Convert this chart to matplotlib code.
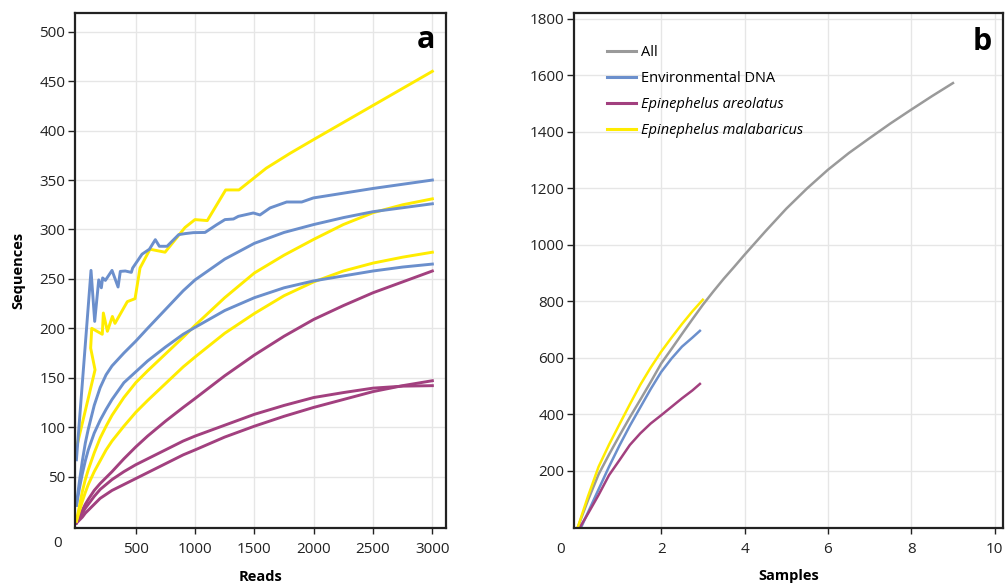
import matplotlib
matplotlib.use("Agg")
import matplotlib.pyplot as plt

plt.rcParams["font.family"] = ["Open Sans", "DejaVu Sans"]

BLUE = "#6b8fcc"
PURPLE = "#a2407f"
YELLOW = "#ffec00"
GRAY = "#9a9a9a"

# panel a: rarefaction per sample (reads vs sequences)
smooth_reads = [0, 25, 50, 75, 100, 150, 200, 250, 300, 400, 500, 600, 750, 900, 1000,
                1250, 1500, 1750, 2000, 2250, 2500, 2750, 3000]
edna_a = [21, 45, 66, 84, 98, 122, 140, 153, 162, 175, 187, 200, 219, 238, 249,
          270, 286, 297, 305, 312, 318, 322, 326]
edna_b = [21, 38, 53, 66, 77, 94, 107, 118, 128, 145, 156, 167, 181, 194, 201,
          218, 231, 241, 248, 253, 258, 262, 265]
mal_a = [5, 20, 35, 47, 57, 74, 89, 101, 112, 130, 145, 157, 174, 191, 203,
         231, 256, 274, 290, 305, 317, 325, 331]
mal_b = [5, 15, 25, 34, 42, 55, 66, 77, 86, 101, 115, 127, 144, 161, 171,
         195, 215, 233, 247, 258, 266, 272, 277]
are_a = [3, 10, 16, 22, 27, 36, 43, 49, 55, 68, 80, 91, 106, 120, 129,
         152, 173, 192, 209, 223, 236, 247, 258]
are_b = [3, 8, 13, 18, 22, 30, 37, 42, 47, 55, 62, 68, 77, 86, 91,
         102, 113, 122, 130, 135, 139.5, 141.5, 142]
are_c = [3, 6, 9, 13, 16, 22, 28, 32, 36, 42, 48, 54, 63, 72, 77,
         90, 101, 111, 120, 128, 136, 142, 147]

edna_raw_reads = [0, 123, 154, 188, 210, 221, 244, 300, 351, 370, 412, 463, 474, 553, 615,
                  665, 699, 764, 862, 915, 985, 1084, 1182, 1252, 1323, 1365, 1491, 1547,
                  1632, 1772, 1899, 1997, 2500, 3000]
edna_raw_seqs = [67, 258.6, 207, 249, 241, 251, 248.5, 258.6, 241.8, 257.6, 258, 256.6, 261,
                 275, 280, 289.7, 283, 283, 294.8, 295.8, 296.8, 297, 304.8, 310, 310.6, 313.3,
                 316.7, 314.7, 321.8, 327.8, 327.8, 331.9, 341.5, 350]
mal_raw_reads = [0, 157, 120, 129, 218, 227, 261, 303, 325, 429, 494, 536, 620, 747, 915,
                 999, 1103, 1258, 1370, 1600, 1800, 2000, 3000]
mal_raw_seqs = [79, 158, 180, 200, 194, 215.5, 197, 212, 205, 227, 230, 261, 280, 277, 302,
                310, 309, 340, 340, 362, 377, 391, 460]

# panel b: accumulation over samples
samples_all = [0, 0.25, 0.5, 0.75, 1.0, 1.25, 1.5, 1.75, 2.0, 2.25, 2.5, 2.75, 3.0, 3.25,
               3.5, 3.75, 4.0, 4.5, 5.0, 5.5, 6.0, 6.5, 7.0, 7.5, 8.0, 8.5, 9.0]
seqs_all = [0, 98, 188, 258, 325, 390, 452, 515, 580, 632, 685, 737, 788, 835,
            880, 922, 965, 1048, 1128, 1200, 1266, 1325, 1378, 1430, 1479, 1527, 1573]
samples_mal = [0, 0.25, 0.5, 0.75, 1.0, 1.25, 1.5, 1.75, 2.0, 2.25, 2.5, 2.75, 3.0]
seqs_mal = [0, 112, 215, 293, 365, 436, 505, 566, 622, 672, 720, 765, 806]
samples_edna = [0.08, 0.25, 0.5, 0.75, 1.0, 1.25, 1.5, 1.75, 2.0, 2.25, 2.5, 2.75, 2.93]
seqs_edna = [0, 55, 135, 215, 290, 360, 425, 490, 550, 598, 640, 672, 696]
samples_are = [0.05, 0.25, 0.5, 0.75, 1.0, 1.25, 1.5, 1.75, 2.0, 2.25, 2.5, 2.75, 2.93]
seqs_are = [0, 50, 115, 185, 238, 292, 333, 368, 397, 427, 457, 485, 508]

legend_labels = ["All", "Environmental DNA", "Epinephelus areolatus", "Epinephelus malabaricus"]


def style_axes(ax):
    ax.grid(True, color="#e6e6e6", linewidth=1.0)
    ax.set_axisbelow(True)
    for sp in ax.spines.values():
        sp.set_linewidth(1.6)
        sp.set_color("#222222")
    ax.tick_params(axis="both", labelsize=11, colors="#222222", width=1.0)
    ax.tick_params(axis="y", length=5, pad=2)
    ax.tick_params(axis="x", length=4, pad=6)


fig = plt.figure(figsize=(10.06, 5.85), dpi=100)
ax_a = fig.add_axes([75 / 1006, 1 - 528 / 585, 371 / 1006, 515 / 585])
ax_b = fig.add_axes([574 / 1006, 1 - 528 / 585, 429 / 1006, 515 / 585])

lw = 2.1
for ys in (are_a, are_b, are_c):
    ax_a.plot(smooth_reads, ys, color=PURPLE, lw=lw)
for ys in (mal_a, mal_b):
    ax_a.plot(smooth_reads, ys, color=YELLOW, lw=lw)
ax_a.plot(mal_raw_reads, mal_raw_seqs, color=YELLOW, lw=lw)
for ys in (edna_a, edna_b):
    ax_a.plot(smooth_reads, ys, color=BLUE, lw=lw)
ax_a.plot(edna_raw_reads, edna_raw_seqs, color=BLUE, lw=lw)

ax_a.set_xlim(-12, 3115)
ax_a.set_ylim(-2, 519)
ax_a.set_xticks([500, 1000, 1500, 2000, 2500, 3000])
ax_a.set_yticks(range(50, 501, 50))
style_axes(ax_a)
ax_a.set_xlabel("Reads", fontsize=10.5, fontweight="bold", labelpad=9.5)
ax_a.set_ylabel("Sequences", fontsize=10.5, fontweight="bold", labelpad=10)
ax_a.text(-0.046, -0.031, "0", transform=ax_a.transAxes, fontsize=11, color="#222222",
          ha="center", va="center")
ax_a.text(0.945, 0.948, "a", transform=ax_a.transAxes, fontsize=22, fontweight="bold",
          ha="center", va="center")

lw_b = 1.8
ax_b.plot(samples_all, seqs_all, color=GRAY, lw=lw_b, label=legend_labels[0])
ax_b.plot(samples_edna, seqs_edna, color=BLUE, lw=lw_b, label=legend_labels[1])
ax_b.plot(samples_are, seqs_are, color=PURPLE, lw=lw_b, label=legend_labels[2])
ax_b.plot(samples_mal, seqs_mal, color=YELLOW, lw=lw_b, label=legend_labels[3])

ax_b.set_xlim(-0.09, 10.2)
ax_b.set_ylim(-2, 1821)
ax_b.set_xticks([2, 4, 6, 8, 10])
ax_b.set_yticks(range(200, 1801, 200))
style_axes(ax_b)
ax_b.set_xlabel("Samples", fontsize=10.5, fontweight="bold", labelpad=8.5)
ax_b.text(-0.031, -0.041, "0", transform=ax_b.transAxes, fontsize=11, color="#222222",
          ha="center", va="center")
ax_b.text(0.952, 0.944, "b", transform=ax_b.transAxes, fontsize=22, fontweight="bold",
          ha="center", va="center")

leg = ax_b.legend(loc="upper left", bbox_to_anchor=(0.076, 0.937), frameon=False,
                  fontsize=10.5, borderpad=0, borderaxespad=0, handlelength=2.05,
                  handletextpad=0.3, labelspacing=0.74)
for t in leg.get_texts()[2:]:
    t.set_fontstyle("italic")
for h in leg.get_lines():
    h.set_linewidth(2.2)

fig.savefig("out.png", dpi=100)
